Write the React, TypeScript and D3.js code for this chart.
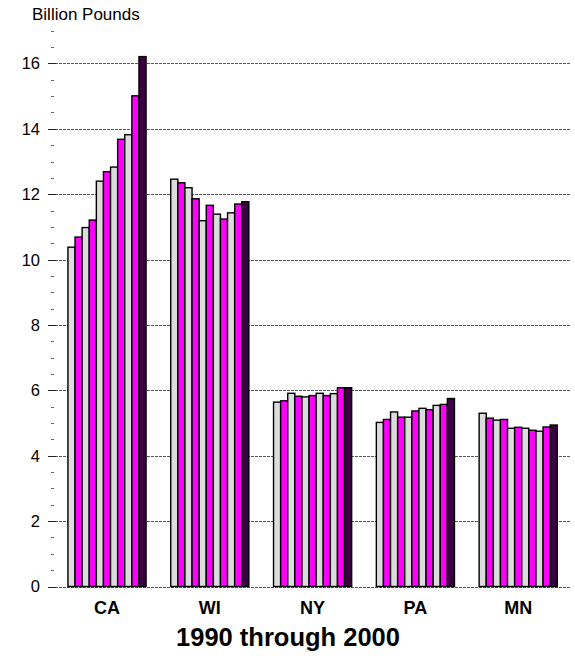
import { useEffect, useRef } from "react";
import * as d3 from "d3";

const states = ["CA", "WI", "NY", "PA", "MN"];
const years = ["1990", "1991", "1992", "1993", "1994", "1995", "1996", "1997", "1998", "1999", "2000"];

// billion pounds, one array per state, 1990..2000
const caValues = [10.38, 10.69, 10.98, 11.21, 12.4, 12.69, 12.83, 13.68, 13.82, 15.01, 16.21];
const wiValues = [12.46, 12.35, 12.2, 11.86, 11.19, 11.66, 11.39, 11.24, 11.43, 11.7, 11.77];
const nyValues = [5.64, 5.68, 5.91, 5.82, 5.8, 5.84, 5.91, 5.84, 5.9, 6.08, 6.08];
const paValues = [5.02, 5.11, 5.34, 5.18, 5.18, 5.37, 5.45, 5.41, 5.54, 5.57, 5.75];
const mnValues = [5.3, 5.15, 5.09, 5.11, 4.84, 4.87, 4.84, 4.78, 4.75, 4.88, 4.94];

const majorTicks = [0, 2, 4, 6, 8, 10, 12, 14, 16];

const FONT = "Liberation Sans, Arial, sans-serif";

const App = () => {
  const svgRef = useRef(null);

  useEffect(() => {
    const WIDTH = 575;
    const HEIGHT = 664;
    const PLOT_LEFT = 48;
    const PLOT_RIGHT = 570;

    const svg = d3.select(svgRef.current).attr("width", WIDTH).attr("height", HEIGHT);
    svg.selectAll("*").remove();

    const table = [caValues, wiValues, nyValues, paValues, mnValues];
    const data = states.flatMap((s, i) =>
      years.map((yr, j) => ({ state: s, year: yr, idx: j, value: table[i][j] }))
    );

    const y = d3.scaleLinear().domain([0, 17]).range([586.5, 586.5 - 17 * 32.69]);
    const x0 = d3.scaleBand().domain(states).range([55.6, 569.6]).paddingInner(0.24).paddingOuter(0.12);
    const x1 = d3.scaleBand().domain(years).range([0, x0.bandwidth()]);

    const barColor = (j) => (j === years.length - 1 ? "#3a0042" : j % 2 === 0 ? "#dcdcdc" : "#ff00ff");

    // gridlines
    svg
      .append("g")
      .selectAll("line")
      .data(majorTicks)
      .enter()
      .append("line")
      .attr("x1", PLOT_LEFT + 7)
      .attr("x2", PLOT_RIGHT)
      .attr("y1", (d) => Math.round(y(d)) + 0.5)
      .attr("y2", (d) => Math.round(y(d)) + 0.5)
      .attr("stroke", "#555")
      .attr("stroke-dasharray", "3,1");

    // major ticks
    svg
      .append("g")
      .selectAll("line")
      .data(majorTicks)
      .enter()
      .append("line")
      .attr("x1", PLOT_LEFT)
      .attr("x2", PLOT_LEFT + 8)
      .attr("y1", (d) => Math.round(y(d)) + 0.5)
      .attr("y2", (d) => Math.round(y(d)) + 0.5)
      .attr("stroke", "#222");

    // minor ticks
    const minor = d3.range(0.5, 17.01, 0.5).filter((v) => v % 2 !== 0);
    svg
      .append("g")
      .selectAll("line")
      .data(minor)
      .enter()
      .append("line")
      .attr("x1", 51)
      .attr("x2", 54)
      .attr("y1", (d) => Math.round(y(d)) + 0.5)
      .attr("y2", (d) => Math.round(y(d)) + 0.5)
      .attr("stroke", "#666");

    // tick labels
    svg
      .append("g")
      .selectAll("text")
      .data(majorTicks)
      .enter()
      .append("text")
      .text((d) => d)
      .attr("x", 40)
      .attr("y", (d) => y(d))
      .attr("dy", "0.36em")
      .attr("text-anchor", "end")
      .style("font-family", FONT)
      .style("font-size", "16.5px")
      .attr("fill", "#000");

    // bars
    svg
      .append("g")
      .selectAll("rect")
      .data(data)
      .enter()
      .append("rect")
      .attr("x", (d) => x0(d.state) + x1(d.year))
      .attr("y", (d) => y(d.value))
      .attr("width", x1.bandwidth())
      .attr("height", (d) => y(0) - y(d.value))
      .attr("fill", (d) => barColor(d.idx))
      .attr("stroke", "#000")
      .attr("stroke-width", 1.4);

    // state labels
    svg
      .append("g")
      .selectAll("text")
      .data(states)
      .enter()
      .append("text")
      .text((d) => d)
      .attr("x", (d) => x0(d) + x0.bandwidth() / 2)
      .attr("y", 614)
      .attr("text-anchor", "middle")
      .style("font-family", FONT)
      .style("font-size", "18px")
      .style("font-weight", "bold");

    svg
      .append("text")
      .text("Billion Pounds")
      .attr("x", 32)
      .attr("y", 20)
      .style("font-family", FONT)
      .style("font-size", "17px");

    svg
      .append("text")
      .text("1990 through 2000")
      .attr("x", 288)
      .attr("y", 646)
      .attr("text-anchor", "middle")
      .style("font-family", FONT)
      .style("font-size", "25.5px")
      .style("font-weight", "bold");
  }, []);

  return <svg ref={svgRef} style={{ position: "absolute", left: 0, top: 0 }} />;
};

export default App;
